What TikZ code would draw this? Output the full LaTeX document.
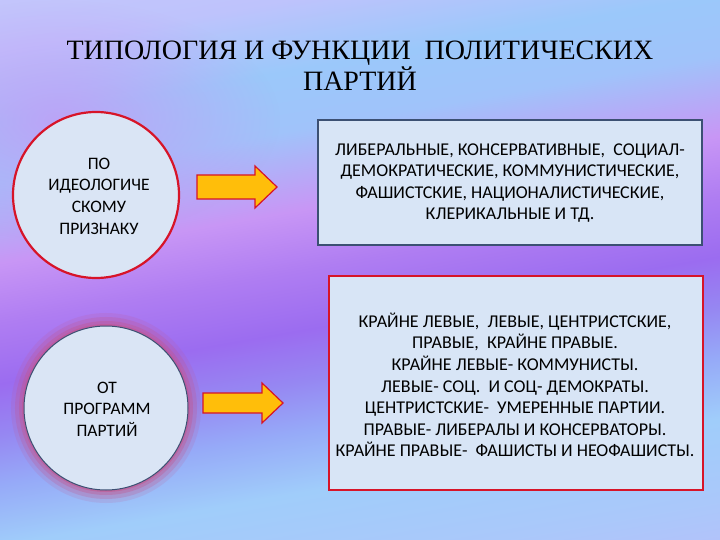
\documentclass[tikz,border=0pt]{standalone}
\usepackage{fontspec}
\setmainfont{Liberation Serif}
\newfontfamily\carl{Carlito}
\usetikzlibrary{fadings}
\definecolor{boxfill}{RGB}{216,229,246}
\definecolor{circfill}{RGB}{218,229,245}
\definecolor{redline}{RGB}{215,20,40}
\definecolor{blueline}{RGB}{60,80,115}
\definecolor{arrowfill}{RGB}{255,190,10}
\definecolor{glow}{RGB}{195,85,140}
\definecolor{leftpur}{RGB}{205,145,245}
\pgfdeclareverticalshading{bgshade}{100bp}{
 color(0bp)=(rgb,255:red,185;green,190;blue,250);
 color(31.5bp)=(rgb,255:red,185;green,190;blue,250);
 color(35.5bp)=(rgb,255:red,170;green,200;blue,250);
 color(39.5bp)=(rgb,255:red,160;green,205;blue,250);
 color(42.5bp)=(rgb,255:red,150;green,170;blue,248);
 color(45bp)=(rgb,255:red,150;green,135;blue,242);
 color(47.5bp)=(rgb,255:red,155;green,108;blue,240);
 color(50.5bp)=(rgb,255:red,175;green,125;blue,242);
 color(53.5bp)=(rgb,255:red,200;green,150;blue,245);
 color(57.5bp)=(rgb,255:red,160;green,195;blue,250);
 color(60.5bp)=(rgb,255:red,155;green,200;blue,250);
 color(64bp)=(rgb,255:red,190;green,195;blue,252);
 color(69bp)=(rgb,255:red,200;green,200;blue,252);
 color(100bp)=(rgb,255:red,200;green,200;blue,252)}
\tikzfading[name=softblob, inner color=transparent!35, outer color=transparent!100]
\tikzset{
  circtext/.style={font=\carl\fontsize{17.5}{21.6}\selectfont, align=center, text=black},
  boxtext/.style={font=\carl\fontsize{18}{21.6}\selectfont, align=center, text=black},
  fatarrow/.style={draw=redline, fill=arrowfill, line width=1.2pt, line join=miter}
}
\begin{document}
\begin{tikzpicture}[x=1pt,y=-1pt]
\useasboundingbox (0,0) rectangle (720,540);
\begin{scope}
\clip (0,0) rectangle (720,540);
\shade[shading=bgshade, shading angle=10] (-140,-230) rectangle (860,770);
% left pinkish tint
\fill[leftpur, path fading=softblob] (60,120) ellipse (220 and 120);
\end{scope}
% title
\node[font=\fontsize{28}{28.5}\selectfont, align=center] (title) at (360,66)
  {ТИПОЛОГИЯ И ФУНКЦИИ\ \ ПОЛИТИЧЕСКИХ\\ПАРТИЙ};
% circle 1
\node[circle, draw=redline, line width=2.2pt, fill=circfill, minimum size=166pt, inner sep=0pt] (c1) at (96,195) {};
\node[circtext] (t1) at (99,196) {ПО\\ИДЕОЛОГИЧЕ\\СКОМУ\\ПРИЗНАКУ};
% circle 2 with glow
\foreach \w/\o in {14/0.15,10/0.25,6/0.35,3/0.5}{
  \draw[glow, line width=\w pt, opacity=\o] (106,408) circle (82+\w/2-1);
}
\node[circle, draw=blueline, line width=1pt, fill=circfill, minimum size=164pt, inner sep=0pt] (c2) at (106,408) {};
\node[circtext] (t2) at (107,409) {ОТ\\ПРОГРАММ\\ПАРТИЙ};
% box 1
\node[draw=blueline, line width=1.5pt, fill=boxfill, minimum width=384pt, minimum height=125pt, inner sep=0pt] (b1) at (510,182.5) {};
\node[boxtext] (bt1) at (510,183) {\mbox{ЛИБЕРАЛЬНЫЕ, КОНСЕРВАТИВНЫЕ,\ \ СОЦИАЛ-}\\ДЕМОКРАТИЧЕСКИЕ, КОММУНИСТИЧЕСКИЕ,\\ФАШИСТСКИЕ, НАЦИОНАЛИСТИЧЕСКИЕ,\\КЛЕРИКАЛЬНЫЕ И ТД.};
% box 2
\node[draw=redline, line width=1.3pt, fill=boxfill, minimum width=374pt, minimum height=214pt, inner sep=0pt] (b2) at (516,383) {};
\node[boxtext] (bt2) at (515,385) {КРАЙНЕ ЛЕВЫЕ,\ \ ЛЕВЫЕ, ЦЕНТРИСТСКИЕ,\\ПРАВЫЕ,\ \ КРАЙНЕ ПРАВЫЕ.\\КРАЙНЕ ЛЕВЫЕ- КОММУНИСТЫ.\\ЛЕВЫЕ- СОЦ.\ \ И СОЦ- ДЕМОКРАТЫ.\\ЦЕНТРИСТСКИЕ-\ \ УМЕРЕННЫЕ ПАРТИИ.\\ПРАВЫЕ- ЛИБЕРАЛЫ И КОНСЕРВАТОРЫ.\\КРАЙНЕ ПРАВЫЕ-\ \ ФАШИСТЫ И НЕОФАШИСТЫ.};
% arrows
\draw[fatarrow] (197,175) -- (255,175) -- (255,166) -- (277,187) -- (255,208) -- (255,199) -- (197,199) -- cycle;
\draw[fatarrow] (203,393) -- (262,393) -- (262,383) -- (283,403) -- (262,423) -- (262,413) -- (203,413) -- cycle;
\end{tikzpicture}
\end{document}
